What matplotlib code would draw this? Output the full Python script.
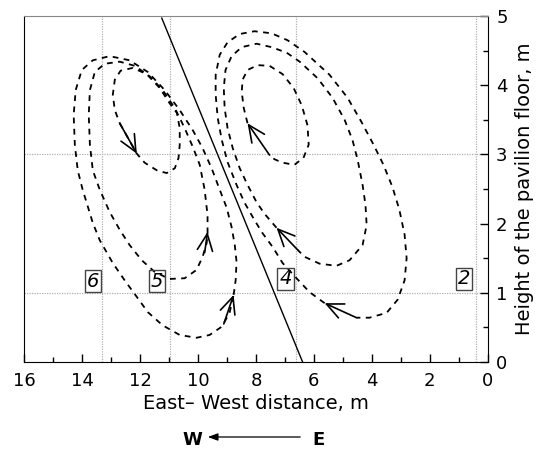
import matplotlib
matplotlib.use("Agg")
import matplotlib.pyplot as plt

# streamline traces (x = east-west distance, y = height)
left_inner_x = [12.70, 12.11, 11.84, 11.42, 11.08, 10.80, 10.67, 10.63, 10.63, 10.73, 10.98,
                11.32, 11.77, 12.25, 12.67, 12.87, 12.94, 12.87, 12.70]
left_inner_y = [3.45, 3.01, 2.88, 2.77, 2.73, 2.80, 2.95, 3.14, 3.38, 3.60, 3.74,
                3.96, 4.16, 4.25, 4.21, 4.08, 3.86, 3.64, 3.45]

left_mid_x = [9.67, 9.67, 9.77, 9.94, 10.18, 10.46, 10.80, 11.22, 11.67, 12.18, 12.70, 13.22,
              13.56, 13.73, 13.77, 13.73, 13.63, 13.39, 13.05, 12.70, 12.36, 11.94, 11.49,
              10.98, 10.46, 10.05, 9.84, 9.70, 9.67]
left_mid_y = [1.86, 2.12, 2.49, 2.85, 3.11, 3.38, 3.67, 3.93, 4.13, 4.28, 4.34, 4.31,
              4.19, 3.93, 3.57, 3.14, 2.77, 2.49, 2.17, 1.91, 1.69, 1.47, 1.30,
              1.20, 1.21, 1.33, 1.52, 1.72, 1.86]

left_outer_x = [8.77, 8.70, 8.67, 8.73, 8.84, 9.01, 9.25, 9.53, 9.84, 10.18, 10.63, 11.15,
                11.73, 12.36, 13.05, 13.63, 14.01, 14.22, 14.29, 14.25, 14.15, 13.98, 13.63,
                13.39, 12.94, 12.53, 12.11, 11.73, 11.22, 10.63, 10.05, 9.60, 9.18, 8.91, 8.77]
left_outer_y = [0.97, 1.18, 1.45, 1.69, 1.95, 2.23, 2.49, 2.80, 3.09, 3.35, 3.64, 3.93,
                4.19, 4.36, 4.42, 4.36, 4.22, 3.93, 3.57, 3.14, 2.77, 2.49, 2.01,
                1.76, 1.43, 1.18, 0.94, 0.72, 0.53, 0.39, 0.35, 0.39, 0.51, 0.71, 0.97]

right_inner_x = [8.29, 8.42, 8.49, 8.46, 8.29, 7.94, 7.53, 7.08, 6.70, 6.42, 6.22, 6.18,
                 6.36, 6.67, 7.08, 7.36, 7.53]
right_inner_y = [3.45, 3.67, 3.90, 4.08, 4.22, 4.29, 4.28, 4.16, 3.96, 3.71, 3.42, 3.14,
                 2.95, 2.85, 2.88, 2.93, 2.99]

right_mid_x = [7.29, 7.70, 7.98, 8.29, 8.56, 8.80, 8.98, 9.08, 9.11, 9.05, 8.84, 8.49, 7.98,
               7.46, 6.94, 6.49, 5.87, 5.36, 4.94, 4.67, 4.49, 4.32, 4.22, 4.18, 4.32, 4.77,
               5.22, 5.80, 6.32, 6.56]
right_mid_y = [1.94, 2.14, 2.31, 2.56, 2.80, 3.09, 3.38, 3.67, 3.96, 4.22, 4.42, 4.55, 4.60,
               4.55, 4.47, 4.34, 4.10, 3.82, 3.50, 3.21, 2.92, 2.56, 2.27, 1.98, 1.69, 1.47,
               1.39, 1.42, 1.52, 1.62]

right_outer_x = [5.63, 6.15, 6.60, 7.08, 7.42, 7.77, 8.05, 8.39, 8.67, 8.98, 9.18, 9.32, 9.39,
                 9.39, 9.25, 8.98, 8.56, 8.05, 7.46, 6.91, 6.32, 5.46, 4.84, 4.36, 3.94, 3.60,
                 3.29, 3.05, 2.87, 2.80, 2.87, 3.11, 3.49, 4.08, 4.53]
right_outer_y = [0.85, 1.01, 1.21, 1.43, 1.66, 1.86, 2.05, 2.30, 2.56, 2.89, 3.21, 3.53, 3.86,
                 4.15, 4.44, 4.62, 4.74, 4.78, 4.75, 4.65, 4.48, 4.15, 3.82, 3.47, 3.14, 2.85,
                 2.53, 2.20, 1.84, 1.50, 1.18, 0.90, 0.71, 0.64, 0.64]

# direction arrows: tail -> head
arrow_tail_x = [12.70, 9.77, 9.11, 7.53, 6.56, 4.53]
arrow_tail_y = [3.45, 1.58, 0.55, 2.99, 1.62, 0.64]
arrow_head_x = [12.11, 9.67, 8.77, 8.29, 7.29, 5.63]
arrow_head_y = [3.01, 1.88, 0.97, 3.45, 1.94, 0.85]

# measurement columns and their labels
column_x = [13.32, 10.97, 6.63, 0.42]
level_y = [1, 3]
column_labels = ['6', '5', '4', '2']
column_label_x = [13.63, 11.42, 6.98, 0.81]
column_label_y = [1.17, 1.17, 1.20, 1.20]

# pavilion boundary line
boundary_x = [11.25, 6.39]
boundary_y = [4.97, 0.0]

fig = plt.figure(figsize=(5.36, 4.5), dpi=100)
ax = fig.add_axes([0.045, 0.1956, 0.865, 0.7688])

for gx in column_x:
    ax.axvline(gx, color='#b0b0b0', lw=0.9, ls=(0, (1, 1)), zorder=1)
for gy in level_y:
    ax.axhline(gy, color='#b0b0b0', lw=0.9, ls=(0, (1, 1)), zorder=1)

curves = [(left_inner_x, left_inner_y), (left_mid_x, left_mid_y), (left_outer_x, left_outer_y),
          (right_inner_x, right_inner_y), (right_mid_x, right_mid_y),
          (right_outer_x, right_outer_y)]
for cx, cy in curves:
    ax.plot(cx, cy, color='black', lw=1.3, dashes=(3.2, 3.0), zorder=3)

ax.plot(boundary_x, boundary_y, color='black', lw=1.0, zorder=3)

for tx, ty, hx, hy in zip(arrow_tail_x, arrow_tail_y, arrow_head_x, arrow_head_y):
    ax.annotate('', xy=(hx, hy), xytext=(tx, ty),
                arrowprops=dict(arrowstyle='->,head_length=1.2,head_width=0.55',
                                lw=1.2, color='black', shrinkA=0, shrinkB=0),
                zorder=4)

for s, lx, ly in zip(column_labels, column_label_x, column_label_y):
    ax.text(lx, ly, s, fontsize=14, style='italic', ha='center', va='center',
            bbox=dict(boxstyle='square,pad=0.1', fc='none', ec='#444444', lw=1.0),
            zorder=5)

ax.set_xlim(16, 0)
ax.set_ylim(0, 5)
ax.set_xticks(range(0, 17, 2))
ax.set_xticks(range(1, 17, 2), minor=True)
ax.set_yticks(range(0, 6))
ax.set_yticks([0.5, 1.5, 2.5, 3.5, 4.5], minor=True)
ax.yaxis.tick_right()
ax.yaxis.set_label_position('right')
ax.tick_params(which='both', direction='in', labelsize=13)
ax.tick_params(axis='x', pad=7)
ax.tick_params(axis='y', pad=6)
ax.tick_params(which='major', length=6, width=1)
ax.tick_params(which='minor', length=3.5, width=1)

ax.spines['top'].set_color('#888888')
for side in ['left', 'right', 'bottom']:
    ax.spines[side].set_color('black')

ax.set_xlabel('East– West distance, m', fontsize=14, labelpad=3)
ax.set_ylabel('Height of the pavilion floor, m', fontsize=14, labelpad=5)

# wind direction note under the axis
fig.text(192 / 536, 1 - 440 / 450, 'W', fontsize=13, fontweight='bold', ha='center', va='center')
fig.text(318 / 536, 1 - 440 / 450, 'E', fontsize=13, fontweight='bold', ha='center', va='center')
fig.add_artist(matplotlib.patches.FancyArrowPatch(
    (303 / 536, 1 - 437 / 450), (205 / 536, 1 - 437 / 450), transform=fig.transFigure,
    arrowstyle='-|>,head_length=6,head_width=2.2', lw=0.9, color='black'))

fig.savefig('out.png', dpi=100)
